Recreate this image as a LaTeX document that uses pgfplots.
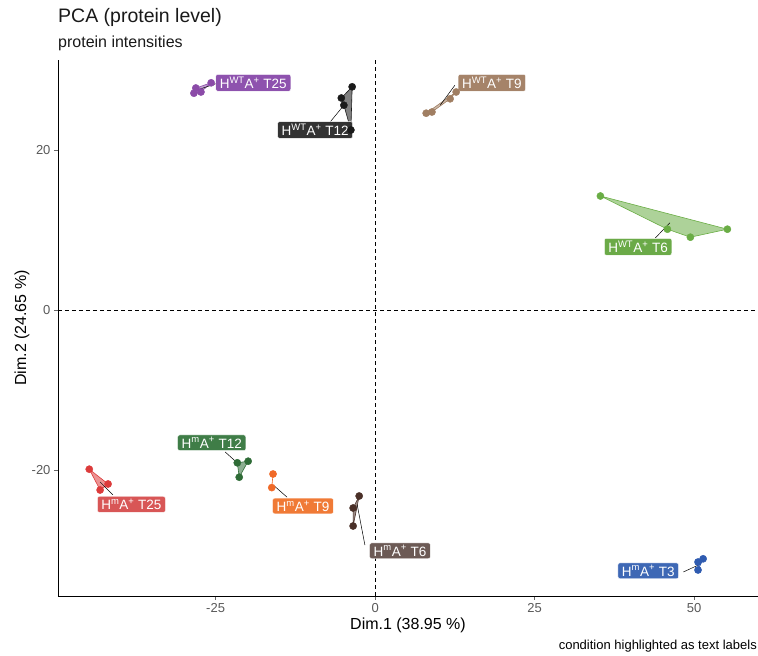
\documentclass[border=0pt]{standalone}
\usepackage{pgfplots}
\pgfplotsset{compat=1.18}
\usepackage{fontspec}
\setmainfont{Liberation Sans}
\definecolor{cWTa}{HTML}{8B4BA8}
\definecolor{cWTb}{HTML}{1A1A1A}
\definecolor{cWTc}{HTML}{A07E62}
\definecolor{cWTd}{HTML}{6AAD45}
\definecolor{cMa}{HTML}{DC3B3B}
\definecolor{cMb}{HTML}{2E6B36}
\definecolor{cMc}{HTML}{F06A28}
\definecolor{cMd}{HTML}{4A3028}
\definecolor{cMe}{HTML}{2F5BB0}
\definecolor{lWTa}{HTML}{8E52AE}
\definecolor{lWTb}{HTML}{333333}
\definecolor{lWTc}{HTML}{A58369}
\definecolor{lWTd}{HTML}{6BAA48}
\definecolor{lMa}{HTML}{D85656}
\definecolor{lMb}{HTML}{3F7D47}
\definecolor{lMc}{HTML}{F07A36}
\definecolor{lMd}{HTML}{6C5A55}
\definecolor{lMe}{HTML}{3E68B5}
\tikzset{
  lab/.style={fill=#1, text=white, draw=white, line width=0.4pt, rounded corners=2pt,
    font=\fontsize{13.5}{16}\selectfont, inner xsep=4pt, inner ysep=2.5pt},
  hull/.style={draw=#1, fill=#1, fill opacity=0.55, line width=0.6pt},
  pts/.style={only marks, mark=*, mark size=3.6pt, color=#1},
  seg/.style={black, line width=0.5pt}
}
\begin{document}
\begin{tikzpicture}
\useasboundingbox (-58pt,-60pt) rectangle (700pt,596pt);
\begin{axis}[
  at={(0pt,0pt)}, anchor=south west, scale only axis,
  width=700pt, height=536pt,
  xmin=-49.7, xmax=60, ymin=-35.75, ymax=31.25,
  axis x line*=bottom, axis y line*=left,
  axis line style={black, line width=0.6pt, -},
  xtick={-25,0,25,50}, xticklabels={-25,0,25,50},
  ytick={-20,0,20}, yticklabels={-20,0,20},
  tick style={color=black!60, line width=0.5pt},
  major tick length=4pt, tick align=outside,
  ticklabel style={font=\fontsize{13}{15}\selectfont, text=black!65},
]
% reference lines
\addplot[black, line width=0.5pt, dash pattern=on 4pt off 3pt] coordinates {(0,-35.75) (0,31.25)};
\addplot[black, line width=0.5pt, dash pattern=on 4pt off 3pt] coordinates {(-49.7,0) (60,0)};
% hulls
\addplot[hull=cWTa] coordinates {(-25.7,28.4) (-28.1,27.75) (-28.4,27.1) (-27.3,27.25) (-25.7,28.4)};
\addplot[hull=cWTb] coordinates {(-3.6,27.9) (-5.3,26.5) (-4.9,25.6) (-3.8,22.5) (-3.6,27.9)};
\addplot[hull=cWTc] coordinates {(12.7,27.25) (11.75,26.4) (8.9,24.75) (8.0,24.6) (12.7,27.25)};
\addplot[hull=cWTd] coordinates {(35.3,14.25) (55.2,10.1) (49.4,9.1) (45.8,10.1) (35.3,14.25)};
\addplot[hull=cMa] coordinates {(-44.8,-19.9) (-43.1,-22.5) (-41.85,-21.75) (-44.8,-19.9)};
\addplot[hull=cMb] coordinates {(-19.9,-18.9) (-21.6,-19.1) (-21.3,-20.9) (-19.9,-18.9)};
\addplot[hull=cMc] coordinates {(-16.0,-20.5) (-16.2,-22.2) (-16.0,-20.5)};
\addplot[hull=cMd] coordinates {(-2.5,-23.25) (-3.45,-24.75) (-3.45,-27.0) (-2.5,-23.25)};
\addplot[hull=cMe] coordinates {(51.4,-31.1) (50.6,-31.5) (50.6,-32.5) (51.4,-31.1)};
% points
\addplot[pts=cWTa] coordinates {(-25.7,28.4) (-28.1,27.75) (-28.4,27.1) (-27.3,27.25)};
\addplot[pts=cWTb] coordinates {(-3.6,27.9) (-5.3,26.5) (-4.9,25.6) (-3.8,22.5)};
\addplot[pts=cWTc] coordinates {(12.7,27.25) (11.75,26.4) (8.9,24.75) (8.0,24.6)};
\addplot[pts=cWTd] coordinates {(35.3,14.25) (45.8,10.1) (49.4,9.1) (55.2,10.1)};
\addplot[pts=cMa] coordinates {(-44.8,-19.9) (-43.1,-22.5) (-41.85,-21.75)};
\addplot[pts=cMb] coordinates {(-19.9,-18.9) (-21.6,-19.1) (-21.3,-20.9)};
\addplot[pts=cMc] coordinates {(-16.0,-20.5) (-16.2,-22.2)};
\addplot[pts=cMd] coordinates {(-2.5,-23.25) (-3.45,-24.75) (-3.45,-27.0)};
\addplot[pts=cMe] coordinates {(51.4,-31.1) (50.6,-31.5) (50.6,-32.5)};
% segments
\addplot[seg] coordinates {(-24.5,28.4) (-27.9,27.5)};
\addplot[seg] coordinates {(-7.05,23.5) (-5.0,25.5)};
\addplot[seg] coordinates {(12.5,28.1) (10.2,25.6)};
\addplot[seg] coordinates {(43.9,9.0) (46.2,10.9)};
\addplot[seg] coordinates {(-41.1,-23.1) (-43.1,-21.5)};
\addplot[seg] coordinates {(-23.5,-17.75) (-21.2,-19.4)};
\addplot[seg] coordinates {(-13.8,-23.4) (-15.8,-22.0)};
\addplot[seg] coordinates {(-1.6,-29.4) (-2.8,-24.4)};
\addplot[seg] coordinates {(48.3,-32.75) (50.6,-31.9)};
% labels
\node[lab=lWTa] at (axis cs:-19.1,28.4) {H\textsuperscript{WT}A\textsuperscript{+} T25};
\node[lab=lWTb] at (axis cs:-9.4,22.5) {H\textsuperscript{WT}A\textsuperscript{+} T12};
\node[lab=lWTc] at (axis cs:18.3,28.4) {H\textsuperscript{WT}A\textsuperscript{+} T9};
\node[lab=lWTd] at (axis cs:41.2,7.9) {H\textsuperscript{WT}A\textsuperscript{+} T6};
\node[lab=lMa] at (axis cs:-38.2,-24.3) {H\textsuperscript{m}A\textsuperscript{+} T25};
\node[lab=lMb] at (axis cs:-25.6,-16.6) {H\textsuperscript{m}A\textsuperscript{+} T12};
\node[lab=lMc] at (axis cs:-11.3,-24.5) {H\textsuperscript{m}A\textsuperscript{+} T9};
\node[lab=lMd] at (axis cs:3.9,-30.1) {H\textsuperscript{m}A\textsuperscript{+} T6};
\node[lab=lMe] at (axis cs:42.8,-32.6) {H\textsuperscript{m}A\textsuperscript{+} T3};
\end{axis}
\node[anchor=west, font=\fontsize{19.5}{22}\selectfont, text=black!90, inner sep=0pt] at (0pt,579pt) {PCA (protein level)};
\node[anchor=west, font=\fontsize{16}{19}\selectfont, text=black!90, inner sep=0pt] at (0pt,553pt) {protein intensities};
\node[font=\fontsize{16}{19}\selectfont, inner sep=0pt] at (350pt,-29pt) {Dim.1 (38.95 \%)};
\node[rotate=90, font=\fontsize{16}{19}\selectfont, inner sep=0pt] at (-36pt,268pt) {Dim.2 (24.65 \%)};
\node[anchor=east, font=\fontsize{13}{15}\selectfont, inner sep=0pt] at (699pt,-50pt) {condition highlighted as text labels};
\end{tikzpicture}
\end{document}
